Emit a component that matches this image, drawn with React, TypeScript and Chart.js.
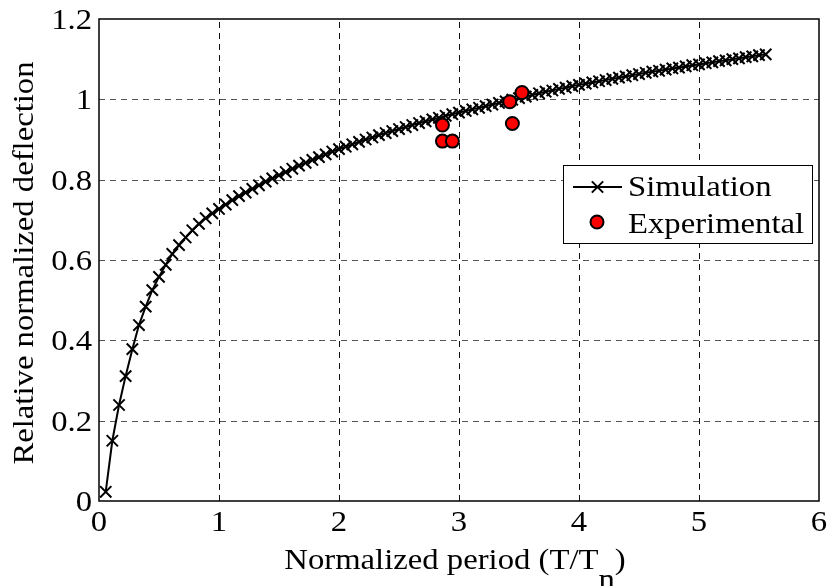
import React, { useEffect, useRef } from "react";
import { Chart, registerables } from "chart.js";

Chart.register(...registerables);

// ---------- data ----------
const simX = [
  0.056, 0.111, 0.167, 0.222, 0.278, 0.333, 0.389, 0.444, 0.5, 0.556,
  0.611, 0.667, 0.722, 0.778, 0.833, 0.889, 0.944, 1.0, 1.056, 1.111,
  1.167, 1.222, 1.278, 1.333, 1.389, 1.444, 1.5, 1.556, 1.611, 1.667,
  1.722, 1.778, 1.833, 1.889, 1.944, 2.0, 2.056, 2.111, 2.167, 2.222,
  2.278, 2.333, 2.389, 2.444, 2.5, 2.556, 2.611, 2.667, 2.722, 2.778,
  2.833, 2.889, 2.944, 3.0, 3.056, 3.111, 3.167, 3.222, 3.278, 3.333,
  3.389, 3.444, 3.5, 3.556, 3.611, 3.667, 3.722, 3.778, 3.833, 3.889,
  3.944, 4.0, 4.056, 4.111, 4.167, 4.222, 4.278, 4.333, 4.389, 4.444,
  4.5, 4.556, 4.611, 4.667, 4.722, 4.778, 4.833, 4.889, 4.944, 5.0,
  5.056, 5.111, 5.167, 5.222, 5.278, 5.333, 5.389, 5.444, 5.5, 5.556,
];
const simY = [
  0.023, 0.150, 0.239, 0.311, 0.378, 0.438, 0.484, 0.525, 0.558, 0.588,
  0.615, 0.637, 0.656, 0.674, 0.690, 0.704, 0.716, 0.727, 0.738, 0.749,
  0.759, 0.768, 0.777, 0.786, 0.795, 0.803, 0.811, 0.819, 0.827, 0.835,
  0.842, 0.849, 0.856, 0.863, 0.870, 0.876, 0.882, 0.888, 0.894, 0.900,
  0.905, 0.911, 0.916, 0.921, 0.926, 0.931, 0.936, 0.941, 0.945, 0.950,
  0.954, 0.959, 0.963, 0.967, 0.971, 0.975, 0.979, 0.983, 0.987, 0.991,
  0.995, 0.999, 1.003, 1.007, 1.011, 1.015, 1.019, 1.022, 1.026, 1.029,
  1.033, 1.036, 1.039, 1.042, 1.045, 1.048, 1.051, 1.054, 1.057, 1.060,
  1.063, 1.066, 1.069, 1.071, 1.074, 1.077, 1.079, 1.082, 1.085, 1.087,
  1.090, 1.092, 1.095, 1.097, 1.100, 1.102, 1.105, 1.107, 1.110, 1.112,
];
const expX = [2.862, 2.862, 2.945, 3.423, 3.525, 3.445];
const expY = [0.936, 0.896, 0.896, 0.994, 1.017, 0.94];

const xTicks = [0, 1, 2, 3, 4, 5, 6];
const yTicks = [0, 0.2, 0.4, 0.6, 0.8, 1, 1.2];
const xTickLabels = ["0", "1", "2", "3", "4", "5", "6"];
const yTickLabels = ["0", "0.2", "0.4", "0.6", "0.8", "1", "1.2"];
const seriesNames = ["Simulation", "Experimental"];
const xTitleMain = "Normalized period (T/T";
const xTitleSub = "n";
const xTitleEnd = ")";
const yTitle = "Relative normalized deflection";

// ---------- drawing helpers ----------
const FONT = "30px 'Liberation Serif', 'Times New Roman', serif";
const SX = 1.09;

function drawText(
  ctx: CanvasRenderingContext2D,
  s: string,
  x: number,
  y: number,
  align: CanvasTextAlign,
  rot = 0
) {
  ctx.save();
  ctx.translate(x, y);
  if (rot) ctx.rotate(rot);
  ctx.scale(SX, 1);
  ctx.font = FONT;
  ctx.fillStyle = "#000";
  ctx.textAlign = align;
  ctx.textBaseline = "alphabetic";
  ctx.fillText(s, 0, 0);
  ctx.restore();
}

function textWidth(ctx: CanvasRenderingContext2D, s: string) {
  ctx.save();
  ctx.font = FONT;
  const w = ctx.measureText(s).width * SX;
  ctx.restore();
  return w;
}

function line(ctx: CanvasRenderingContext2D, x1: number, y1: number, x2: number, y2: number) {
  ctx.beginPath();
  ctx.moveTo(x1, y1);
  ctx.lineTo(x2, y2);
  ctx.stroke();
}

function drawCross(ctx: CanvasRenderingContext2D, cx: number, cy: number, r: number) {
  const d = r * Math.SQRT1_2;
  ctx.beginPath();
  ctx.moveTo(cx - d, cy - d);
  ctx.lineTo(cx + d, cy + d);
  ctx.moveTo(cx - d, cy + d);
  ctx.lineTo(cx + d, cy - d);
  ctx.stroke();
}

const framePlugin = {
  id: "frame",
  beforeDatasetsDraw(chart: any) {
    const { ctx, chartArea: a, scales } = chart;
    const xs = scales.x;
    const ys = scales.y;
    ctx.save();
    ctx.lineWidth = 1;
    ctx.setLineDash([6, 5]);
    xTicks.forEach((v) => {
      if (v <= xs.min || v >= xs.max) return;
      const px = Math.round(xs.getPixelForValue(v)) + 0.5;
      ctx.strokeStyle = "#111";
      line(ctx, px, a.bottom, px, a.top);
    });
    yTicks.forEach((v) => {
      if (v <= ys.min || v >= ys.max) return;
      const py = Math.round(ys.getPixelForValue(v)) + 0.5;
      ctx.strokeStyle = "#555";
      line(ctx, a.left, py, a.right, py);
    });
    ctx.setLineDash([]);
    ctx.lineWidth = 1.5;
    ctx.strokeStyle = "#000";
    ctx.strokeRect(a.left, a.top, a.right - a.left, a.bottom - a.top);
    ctx.restore();

    // tick labels
    xTicks.forEach((v, i) => {
      drawText(ctx, xTickLabels[i], xs.getPixelForValue(v), a.bottom + 30, "center");
    });
    yTicks.forEach((v, i) => {
      drawText(ctx, yTickLabels[i], a.left - 7, ys.getPixelForValue(v) + 10, "right");
    });

    // axis titles
    const wMain = textWidth(ctx, xTitleMain);
    const wSub = textWidth(ctx, xTitleSub);
    const wEnd = textWidth(ctx, xTitleEnd);
    const total = wMain + wSub + wEnd;
    const cx = (a.left + a.right) / 2 - 4;
    let x0 = cx - total / 2;
    const base = a.bottom + 68;
    drawText(ctx, xTitleMain, x0, base, "left");
    x0 += wMain;
    drawText(ctx, xTitleSub, x0, base + 20, "left");
    x0 += wSub;
    drawText(ctx, xTitleEnd, x0, base, "left");

    drawText(ctx, yTitle, 33, (a.top + a.bottom) / 2 + 3, "center", -Math.PI / 2);
  },
  afterDatasetsDraw(chart: any) {
    const { ctx } = chart;
    const L = 563, T = 165, R = 812, B = 243;
    ctx.save();
    ctx.fillStyle = "#fff";
    ctx.fillRect(L, T, R - L, B - T);
    ctx.strokeStyle = "#000";
    ctx.lineWidth = 1;
    ctx.strokeRect(L + 0.5, T + 0.5, R - L, B - T);
    // simulation sample
    ctx.lineWidth = 2;
    line(ctx, 573, 187, 622, 187);
    ctx.lineWidth = 2;
    drawCross(ctx, 597.5, 187, 8);
    // experimental sample
    ctx.beginPath();
    ctx.arc(597, 222, 6.5, 0, Math.PI * 2);
    ctx.fillStyle = "#ff0000";
    ctx.fill();
    ctx.lineWidth = 2;
    ctx.strokeStyle = "#000";
    ctx.stroke();
    ctx.restore();
    drawText(ctx, seriesNames[0], 628, 196, "left");
    drawText(ctx, seriesNames[1], 628, 233, "left");
  },
};

export default function App() {
  const ref = useRef<HTMLCanvasElement>(null);
  useEffect(() => {
    if (!ref.current) return;
    const chart = new Chart(ref.current, {
      type: "scatter",
      data: {
        datasets: [
          {
            label: seriesNames[1],
            data: expX.map((x, i) => ({ x, y: expY[i] })),
            showLine: false,
            pointStyle: "circle",
            pointRadius: 6.5,
            pointBackgroundColor: "#ff0000",
            pointBorderColor: "#000",
            pointBorderWidth: 2,
            clip: false as any,
            order: 0,
          },
          {
            label: seriesNames[0],
            data: simX.map((x, i) => ({ x, y: simY[i] })),
            showLine: true,
            borderColor: "#000",
            borderWidth: 2,
            pointStyle: "crossRot",
            pointRadius: 8,
            pointBorderColor: "#000",
            pointBackgroundColor: "rgba(0,0,0,0)",
            pointBorderWidth: 2,
            clip: false as any,
            order: 1,
          },
        ],
      },
      options: {
        responsive: false,
        animation: false,
        events: [],
        layout: { padding: { top: 19, right: 11, left: 0, bottom: 0 } },
        plugins: {
          legend: { display: false },
          tooltip: { enabled: false },
          title: { display: false },
        },
        scales: {
          x: {
            type: "linear",
            min: 0,
            max: 6,
            ticks: { display: false, stepSize: 1 },
            grid: { display: false },
            border: { display: false },
            afterFit: (s: any) => {
              s.height = 85;
            },
          },
          y: {
            type: "linear",
            min: 0,
            max: 1.2,
            ticks: { display: false, stepSize: 0.2 },
            grid: { display: false },
            border: { display: false },
            afterFit: (s: any) => {
              s.width = 99;
            },
          },
        },
      },
      plugins: [framePlugin],
    });
    return () => chart.destroy();
  }, []);
  return (
    <div style={{ position: "absolute", left: 0, top: 0, width: 830, height: 586, background: "#fff" }}>
      <canvas ref={ref} width={830} height={586} style={{ display: "block" }} />
    </div>
  );
}
